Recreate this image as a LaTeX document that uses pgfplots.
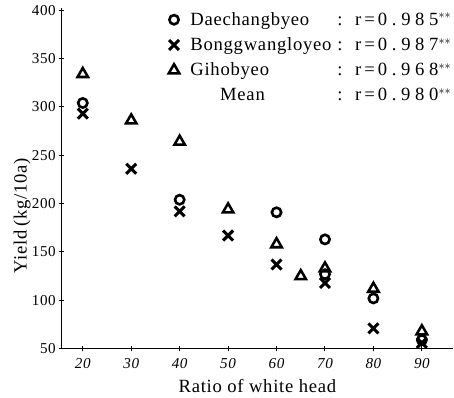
\documentclass[border=0pt]{standalone}
\usepackage{pgfplots}
\pgfplotsset{compat=1.18}
\usepackage{fontspec}
\usepackage{calc}
\setmainfont{Liberation Serif}[LetterSpace=4]
\newfontfamily\rfont{Liberation Serif}[LetterSpace=25]
\begin{document}
\fontsize{15}{18}\selectfont
\newcommand{\nm}[1]{\makebox[146pt][l]{#1}}
\newcommand{\rv}[1]{{\rfont: r\,=\,#1}$^{**}$}
\begin{tikzpicture}
\begin{axis}[
  scale only axis,
  width=389pt, height=338pt,
  xmin=15.6, xmax=96.5,
  ymin=50, ymax=402,
  axis x line=bottom, axis y line=left,
  axis line style={-, line width=1.3pt},
  xtick={20,30,...,90},
  ytick={50,100,...,400},
  tick align=center,
  major tick length=5pt,
  tick style={line width=1pt, black},
  /pgf/number format/assume math mode=true,
  xticklabel style={font=\fontsize{15}{18}\selectfont\itshape, yshift=-2pt},
  yticklabel style={font=\fontsize{15}{18}\selectfont, xshift=2pt},
  xlabel={Ratio of white head},
  ylabel={Yield\,(kg/10a)},
  label style={font=\fontsize{18.5}{20}\selectfont},
  xlabel style={yshift=0pt},
  ylabel style={at={(axis description cs:-0.10,0.39)}, anchor=center},
  legend style={at={(1.0,0.995)}, anchor=north east, draw=none, fill=none,
    font=\fontsize{18.5}{20}\selectfont, row sep=6pt, column sep=9pt,
    legend cell align=left, inner sep=0pt},
  clip=false,
]
\addplot[only marks, black, mark=o, mark size=4.6pt, mark options={line width=2.6pt}] coordinates {
 (20,304) (40,204) (60,191) (70,163) (70,127) (80,102) (90,59)};
\addplot[only marks, black, mark=x, mark size=7pt, mark options={line width=3pt}] coordinates {
 (20,293) (30,236) (40,192) (50,167) (60,137) (70,118) (80,71) (90,56)};
\addplot[only marks, black, mark=triangle, mark size=6pt, mark options={line width=2.5pt}] coordinates {
 (20,334) (30,286) (40,264) (50,194) (60,158) (65,125) (70,133) (80,112) (90,68)};
\addlegendimage{empty legend}
\legend{\nm{Daechangbyeo}\rv{0.985},
        \nm{Bonggwangloyeo}\rv{0.987},
        \nm{Gihobyeo}\rv{0.968},
        \nm{\hspace{1.6em}Mean}\rv{0.980}}
\end{axis}
\end{tikzpicture}
\end{document}
